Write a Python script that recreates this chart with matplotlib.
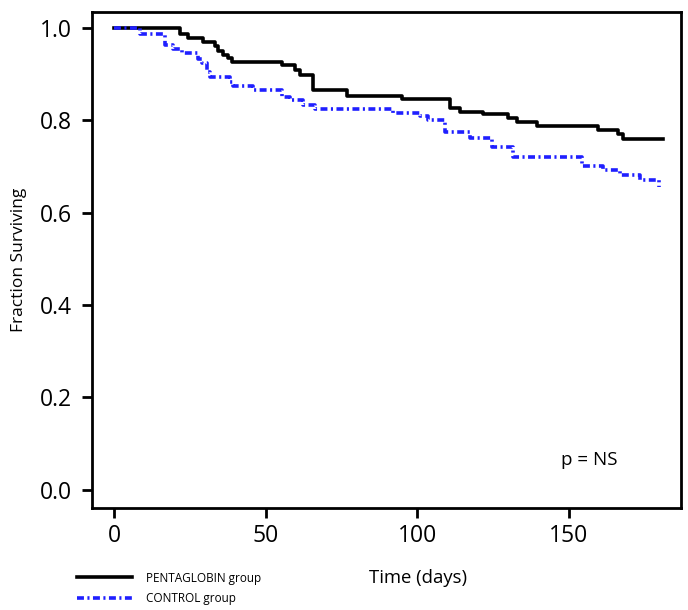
import numpy as np
import matplotlib
matplotlib.use('Agg')
import matplotlib.pyplot as plt
from matplotlib.lines import Line2D

plt.rcParams['font.family'] = ['Open Sans', 'DejaVu Sans']
plt.rcParams['lines.scale_dashes'] = False

# Kaplan-Meier step data
penta_days = [0, 21.8, 24.4, 29.3, 33.3, 34.3, 35.9, 37.6, 38.9, 55.4, 59.7, 61.3,
              65.6, 76.8, 94.8, 110.7, 114.0, 121.6, 129.9, 132.8, 139.4, 159.5,
              166.1, 167.8, 180.9]
penta_surv = [1.0, 0.988, 0.978, 0.970, 0.961, 0.951, 0.942, 0.935, 0.927, 0.920,
              0.909, 0.898, 0.866, 0.853, 0.846, 0.826, 0.819, 0.815, 0.805, 0.797,
              0.789, 0.779, 0.771, 0.759, 0.759]

control_days = [0, 8.6, 16.8, 19.4, 22.4, 27.7, 29.0, 30.7, 31.6, 38.2, 39.2, 45.8,
                55.4, 58.0, 62.3, 66.2, 92.0, 100.9, 103.5, 109.1, 117.3, 124.6,
                131.5, 154.3, 161.2, 166.8, 173.4, 179.6]
control_surv = [1.0, 0.988, 0.963, 0.954, 0.946, 0.934, 0.924, 0.906, 0.895, 0.884,
                0.874, 0.866, 0.850, 0.844, 0.833, 0.824, 0.817, 0.810, 0.800, 0.776,
                0.763, 0.743, 0.720, 0.701, 0.693, 0.682, 0.671, 0.656]

x_ticks = [0, 50, 100, 150]
y_ticks = [0.0, 0.2, 0.4, 0.6, 0.8, 1.0]

fig = plt.figure(figsize=(6.88, 6.10), dpi=100)
ax = fig.add_axes([0.1337, 0.1672, 0.856, 0.813])

blue = '#1f1fff'
ctrl_dash = (0, (5, 2.5, 1.5, 2.5))
ax.plot(penta_days, penta_surv, drawstyle='steps-post', color='black', lw=2.6)
ax.plot(control_days, control_surv, drawstyle='steps-post', color=blue, lw=2.6,
        linestyle=ctrl_dash)

ax.set_xlim(-7.25, 186.9)
ax.set_ylim(-0.04, 1.035)
ax.set_xticks(x_ticks)
ax.set_yticks(y_ticks)
ax.set_yticklabels(['%.1f' % v for v in y_ticks])
ax.tick_params(direction='out', length=7.5, width=2, labelsize=16.5)
ax.tick_params(axis='x', pad=4)
ax.tick_params(axis='y', pad=7)
for sp in ax.spines.values():
    sp.set_linewidth(2)

ax.set_ylabel('Fraction Surviving', fontsize=12.5)
ax.yaxis.set_label_coords(-0.11, 0.5)
ax.set_xlabel('Time (days)', fontsize=13.3, va='center')
ax.xaxis.set_label_coords(0.553, -0.141)

ax.text(156.6, 0.065, 'p = NS', fontsize=13.5, ha='center', va='center')

handles = [Line2D([], [], color='black', lw=2.6),
           Line2D([], [], color=blue, lw=2.6, linestyle=ctrl_dash)]
fig.legend(handles, ['PENTAGLOBIN group', 'CONTROL group'], loc='upper left',
           bbox_to_anchor=(0.112, 0.063), frameon=False, fontsize=8.5,
           handlelength=4.65, handletextpad=1.2, labelspacing=0.6,
           borderaxespad=0, borderpad=0)

fig.savefig('out.png', dpi=100)
